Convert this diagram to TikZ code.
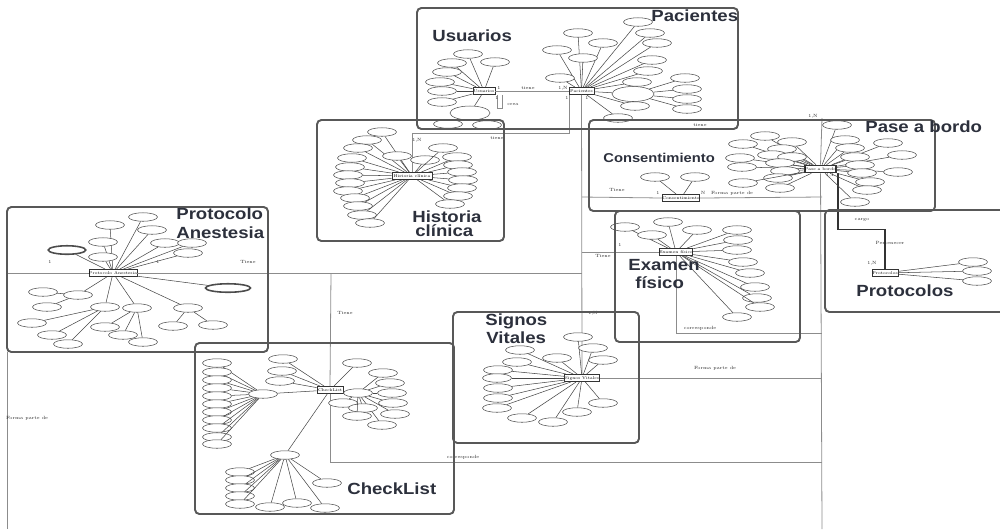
\documentclass[tikz,border=0pt]{standalone}
\usepackage{fontspec}
\usetikzlibrary{shapes.geometric,calc}
\newfontfamily\lblfont[FakeStretch=1.15]{Liberation Sans}
\definecolor{titlecol}{RGB}{44,48,60}
\definecolor{framecol}{RGB}{88,88,88}
\tikzset{
  frame/.style={draw=framecol, line width=1.1pt, rounded corners=2.5pt},
  title/.style={font=\lblfont\bfseries\fontsize{9.2}{10}\selectfont, text=titlecol, inner sep=0pt, anchor=base west},
  ent/.style={draw=black!80, line width=0.5pt, fill=white, minimum height=0.14cm, inner sep=0pt, font=\fontsize{2.3}{2.5}\selectfont},
  attr/.style={ellipse, draw=black!70, line width=0.3pt, fill=white, minimum width=0.58cm, minimum height=0.17cm, inner sep=0pt},
  attrw/.style={attr, minimum width=0.8cm, minimum height=0.28cm},
  attrb/.style={attr, line width=0.9pt, minimum width=0.75cm},
  link/.style={draw=black!72, line width=0.3pt},
  rel/.style={draw=black!45, line width=0.45pt},
  reld/.style={draw=black!80, line width=0.6pt},
  tag/.style={font=\fontsize{2.6}{3}\selectfont, inner sep=0.2pt, text=black!85}
}
\begin{document}
\begin{tikzpicture}[x=0.02cm, y=-0.02cm]
\useasboundingbox (0,0) rectangle (1000,529);
\begin{scope}
\clip (0,0) rectangle (1000,529);

% ---------- entities ----------
\node[ent, minimum width=0.44cm] (U) at (484,91) {Usuarios};
\node[ent, minimum width=0.50cm] (P) at (581.5,91) {Pacientes};
\node[ent, minimum width=0.80cm] (H) at (412,176) {Historia clínica};
\node[ent, minimum width=0.80cm] (A) at (113,273) {Protocolo Anestesia};
\node[ent, minimum width=0.66cm] (C) at (681,198) {Consentimiento};
\node[ent, minimum width=0.58cm, line width=0.9pt] (B) at (820.5,169) {Pase a bordo};
\node[ent, minimum width=0.64cm] (E) at (676,252) {Examen físico};
\node[ent, minimum width=0.66cm] (S) at (582,378) {Signos Vitales};
\node[ent, minimum width=0.52cm] (K) at (330,390) {CheckList};
\node[ent, minimum width=0.52cm] (R) at (885,273) {Protocolos};

% ---------- long relationship lines ----------
\coordinate (bt) at (822,118);
\coordinate (bb) at (822,529);
\draw[rel] (bt) -- (B.north);
\draw[rel] (B.south) -- (bb);
\coordinate (lt) at (7,352);
\coordinate (lb) at (7,529);
\draw[rel] (lt) -- (lb);

\draw[rel] (U) -- (P);
\draw[rel] ($(U.south east)+(2,0)$) -- ++(0,13) -- ++(5,0) -- ++(0,-13);
\draw[rel] ($(P.south west)+(0.5,0)$) -- ++(0,38) -| (H.north);
\draw[rel] (P.south) -- (S.north);
\coordinate (sr) at (822,378);
\draw[rel] (S.east) -- (sr);
\coordinate (cl) at (582,197);
\coordinate (cr) at (822,197);
\draw[rel] (cl) -- (C.west);
\draw[rel] (C.east) -- (cr);
\coordinate (el) at (582,252);
\draw[rel] (E.west) -- (el);
\coordinate (er) at (822,333);
\draw[rel] (E.south) |- (er);
\coordinate (al) at (7,273);
\coordinate (ar) at (582,273);
\draw[rel] (al) -- (A.west);
\draw[rel] (A.east) -- (ar);
\coordinate (kt) at (331,273);
\coordinate (kr) at (822,462);
\draw[rel] (K.north) -- (kt);
\draw[rel] (K.south) |- (kr);
\draw[reld] ($(B.south east)+(1,0)$) -- ++(0,56) -| (R.north);

% ---------- attributes: Usuarios ----------
\foreach \x/\y [count=\i] in {468/54, 452/63, 495/62, 447/72, 440/82, 442/91, 442/102}
  {\node[attr] (u\i) at (\x,\y) {}; \draw[link] (u\i) -- (U);}
\node[attrw] (uc) at (470,113) {};
\draw[link] (uc) -- (U);
\foreach \x/\y [count=\i] in {448/124, 487/125}
  {\node[attr] (uc\i) at (\x,\y) {}; \draw[link] (uc\i) -- (uc);}

% ---------- attributes: Pacientes ----------
\foreach \x/\y [count=\i] in {578/33, 638/22, 650/33, 603/43, 657/43, 557/50, 583/58, 652/60, 648/71, 560/78, 637/82, 635/106, 618/118}
  {\node[attr] (p\i) at (\x,\y) {}; \draw[link] (p\i) -- (P);}
\node[attrw, minimum width=0.84cm, minimum height=0.3cm] (pc) at (633,94) {};
\draw[link] (pc) -- (P);
\foreach \x/\y [count=\i] in {685/78, 687/89, 687/99, 687/109}
  {\node[attr] (pc\i) at (\x,\y) {}; \draw[link] (pc\i) -- (pc);}

% ---------- attributes: Historia clinica ----------
\foreach \x/\y [count=\i] in {382/132, 367/140, 358/148, 352/158, 350/167, 348/175, 350/183, 348/191, 355/198, 358/206, 362/215, 370/223, 397/156, 425/160, 443/148, 457/157, 458/165, 462/172, 463/180, 462/188, 458/196, 450/204}
  {\node[attr] (h\i) at (\x,\y) {}; \draw[link] (h\i) -- (H);}

% ---------- attributes: Consentimiento ----------
\foreach \x/\y [count=\i] in {655/177, 695/177}
  {\node[attr] (c\i) at (\x,\y) {}; \draw[link] (c\i) -- (C);}

% ---------- attributes: Pase a bordo ----------
\foreach \x/\y [count=\i] in {765/136, 792/142, 743/144, 782/149, 772/155, 740/158, 792/157, 742/167, 780/163, 785/171, 778/178, 743/183, 780/188, 837/125, 845/140, 850/148, 888/143, 902/155, 855/157, 860/165, 898/172, 862/173, 870/182, 867/190, 855/202}
  {\node[attr] (b\i) at (\x,\y) {}; \draw[link] (b\i) -- (B);}

% ---------- attributes: Protocolo Anestesia ----------
\foreach \x/\y [count=\i] in {143/217, 110/225, 152/230, 103/242, 165/243, 192/243, 188/253, 103/257}
  {\node[attr] (a\i) at (\x,\y) {}; \draw[link] (a\i) -- (A);}
\node[attrb] (ab1) at (67,250) {};
\draw[link] (ab1) -- (A);
\node[attrb, minimum width=0.9cm] (ab2) at (228,288) {};
\draw[link] (ab2) -- (A);
\node[attr] (ac1) at (78,295) {};
\node[attr] (ac2) at (105,307) {};
\node[attr] (ac3) at (137,308) {};
\node[attr] (ac4) at (188,308) {};
\foreach \j in {1,...,4} {\draw[link] (ac\j) -- (A);}
\foreach \x/\y [count=\i] in {43/292, 47/307}
  {\node[attr] (ad\i) at (\x,\y) {}; \draw[link] (ad\i) -- (ac1);}
\foreach \x/\y [count=\i] in {32/323, 52/335, 68/344}
  {\node[attr] (ae\i) at (\x,\y) {}; \draw[link] (ae\i) -- (ac2);}
\foreach \x/\y [count=\i] in {105/327, 123/335, 143/342}
  {\node[attr] (af\i) at (\x,\y) {}; \draw[link] (af\i) -- (ac3);}
\foreach \x/\y [count=\i] in {173/326, 213/325}
  {\node[attr] (ag\i) at (\x,\y) {}; \draw[link] (ag\i) -- (ac4);}

% ---------- attributes: CheckList ----------
\foreach \x/\y [count=\i] in {283/359, 282/371, 280/381, 357/363}
  {\node[attr] (k\i) at (\x,\y) {}; \draw[link] (k\i) -- (K);}
\node[attr] (kl) at (263,394) {};
\node[attr] (kq) at (358,393) {};
\node[attr] (kd) at (285,455) {};
\draw[link] (kl) -- (K);
\draw[link] (kq) -- (K);
\draw[link] (kd) -- (K);
\foreach \y [count=\i] in {363,372,380,388,396,404,412,420,428,437,444}
  {\node[attr] (kl\i) at (217,\y) {}; \draw[link] (kl\i) -- (kl);}
\foreach \x/\y [count=\i] in {383/373, 390/383, 392/393, 393/403, 395/414, 382/425, 343/403, 363/408, 357/416}
  {\node[attr] (kq\i) at (\x,\y) {}; \draw[link] (kq\i) -- (kq);}
\foreach \x/\y [count=\i] in {240/472, 240/480, 240/488, 240/496, 240/504, 270/507, 297/503, 325/508, 327/483}
  {\node[attr] (kd\i) at (\x,\y) {}; \draw[link] (kd\i) -- (kd);}

% ---------- attributes: Signos Vitales ----------
\foreach \x/\y [count=\i] in {578/337, 593/348, 603/360, 557/358, 520/350, 517/362, 498/370, 497/378, 498/388, 498/398, 497/408, 522/418, 553/422, 577/412, 603/403}
  {\node[attr] (s\i) at (\x,\y) {}; \draw[link] (s\i) -- (S);}

% ---------- attributes: Examen fisico ----------
\foreach \x/\y [count=\i] in {625/227, 652/235, 668/222, 697/230, 737/230, 738/240, 737/250, 743/262, 750/273, 755/287, 757/298, 760/307, 737/317}
  {\node[attr] (e\i) at (\x,\y) {}; \draw[link] (e\i) -- (E);}

% ---------- attributes: Protocolos ----------
\foreach \x/\y [count=\i] in {973/262, 977/271, 977/281}
  {\node[attr] (r\i) at (\x,\y) {}; \draw[link] (r\i) -- (R);}

% ---------- relationship labels ----------
\node[tag] at (528,88) {tiene};
\node[tag] at (499,88) {1};
\node[tag] at (563,88) {1,N};
\node[tag] at (513,104) {crea};
\node[tag] at (497,98) {1};
\node[tag] at (567,98) {1};
\node[tag] at (587,98) {1};
\node[tag] at (700,125) {tiene};
\node[tag] at (417,140) {1,N};
\node[tag] at (497,138) {tiene};
\node[tag] at (617,190) {Tiene};
\node[tag] at (658,193) {1};
\node[tag] at (703,193) {N};
\node[tag] at (732,193) {Forma parte de};
\node[tag] at (813,116) {1,N};
\node[tag] at (830,175) {1,1};
\node[tag] at (603,256) {Tiene};
\node[tag] at (620,245) {1};
\node[tag] at (700,328) {corresponde};
\node[tag] at (715,368) {Forma parte de};
\node[tag] at (593,313) {1,N};
\node[tag] at (50,262) {1};
\node[tag] at (158,262) {1};
\node[tag] at (248,262) {Tiene};
\node[tag] at (345,313) {Tiene};
\node[tag] at (463,457) {corresponde};
\node[tag] at (27,418) {Forma parte de};
\node[tag] at (862,220) {cargo};
\node[tag] at (890,243) {Pertenecer};
\node[tag] at (872,263) {1,N};

% ---------- group frames ----------
\draw[frame] (417,8) rectangle (738,129);
\draw[frame] (317,120) rectangle (504,241);
\draw[frame] (589,120) rectangle (935,211);
\draw[frame] (7,207) rectangle (268,352);
\draw[frame] (195,343) rectangle (454,514);
\draw[frame] (453,312) rectangle (639,443);
\draw[frame] (615,211) rectangle (800,342);
\draw[frame] (825,210) rectangle (1012,312);

% ---------- group titles ----------
\node[title] at (432,41.7) {Usuarios};
\node[title] at (651,21.7) {Pacientes};
\node[title, font=\lblfont\bfseries\fontsize{7.3}{8}\selectfont] at (603,162) {Consentimiento};
\node[title] at (865,132) {Pase a bordo};
\node[title] at (412,222) {Historia};
\node[title] at (415,236) {clínica};
\node[title] at (176,219) {Protocolo};
\node[title] at (176,238) {Anestesia};
\node[title] at (628,270) {Examen};
\node[title] at (635,288) {físico};
\node[title] at (485,325) {Signos};
\node[title] at (486,343) {Vitales};
\node[title] at (347,494) {CheckList};
\node[title] at (856,296) {Protocolos};
\end{scope}
\end{tikzpicture}
\end{document}
